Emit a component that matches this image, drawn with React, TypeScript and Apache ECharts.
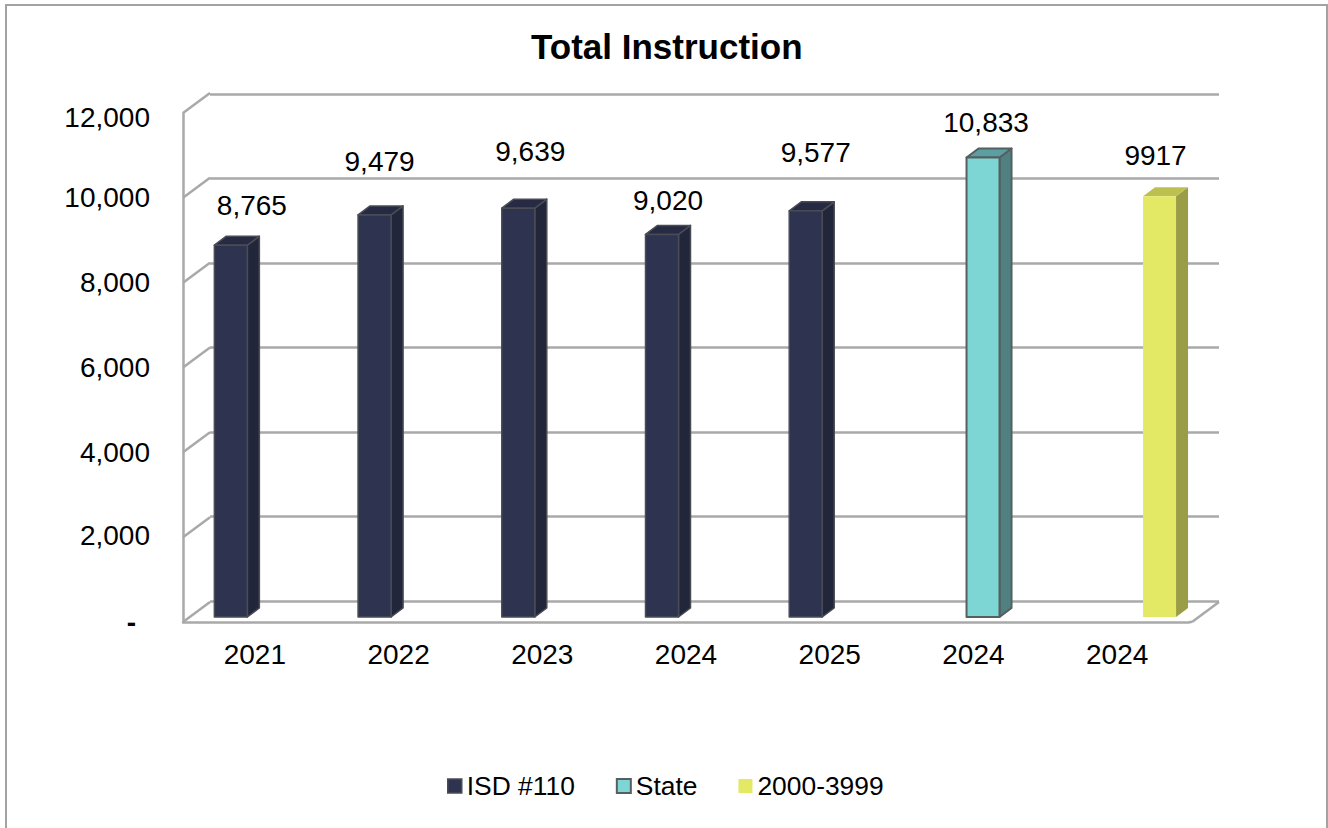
import React, { useEffect, useRef } from "react";
import * as echarts from "echarts";

const categories = ["2021", "2022", "2023", "2024", "2025", "2024", "2024"];
const isdValues = [8765, 9479, 9639, 9020, 9577, null, null];
const stateValues = [null, null, null, null, null, 10833, null];
const rangeValues = [null, null, null, null, null, null, 9917];
const isdLabels = ["8,765", "9,479", "9,639", "9,020", "9,577", "", ""];
const stateLabels = ["", "", "", "", "", "10,833", ""];
const rangeLabels = ["", "", "", "", "", "", "9917"];
const yTicks = [0, 2000, 4000, 6000, 8000, 10000, 12000];

const FONT = "'Liberation Sans', Arial, sans-serif";
const nudges: [number, number][] = [[21, -40], [5, -53], [12, -57], [6, -34], [10, -58], [3, -35], [-4, -41]];

const DEPTH_X = 27;
const DEPTH_Y = 20;
const BAR_W = 33;
const BAR_DX = 12;
const BAR_DY = 9;
const BAR_LIFT = 5;
const FLOOR_OVERHANG = 3;
const GRID_LINE = "#a9a9a9";

type Look = { name: string; front: string; side: string; top: string; border: string; borderWidth: number; offset: number };

const makeBar = (look: Look, labels: string[]) => (params: any, api: any) => {
  const i = api.value(0);
  const v = api.value(1);
  const [cx, yTop] = api.coord([i, v]);
  const [, yBase] = api.coord([i, 0]);
  const x0 = cx + look.offset - BAR_W / 2;
  const x1 = x0 + BAR_W;
  const t = yTop - BAR_LIFT;
  const b = yBase - BAR_LIFT;
  const line = { stroke: look.border, lineWidth: look.borderWidth, lineJoin: "round" };
  const nudge = nudges[i];
  return {
    type: "group",
    children: [
      {
        type: "polygon",
        shape: { points: [[x1, t], [x1 + BAR_DX, t - BAR_DY], [x1 + BAR_DX, b - BAR_DY], [x1, b]] },
        style: { fill: look.side, ...line },
      },
      {
        type: "polygon",
        shape: { points: [[x0, t], [x0 + BAR_DX, t - BAR_DY], [x1 + BAR_DX, t - BAR_DY], [x1, t]] },
        style: { fill: look.top, ...line },
      },
      { type: "rect", shape: { x: x0, y: t, width: BAR_W, height: b - t }, style: { fill: look.front, ...line } },
      {
        type: "text",
        style: {
          text: labels[i],
          x: x0 + BAR_W / 2 + nudge[0],
          y: t + nudge[1],
          align: "center",
          verticalAlign: "middle",
          fontSize: 28,
          fontFamily: FONT,
          fill: "#000",
        },
      },
    ],
  };
};

const frameItem = (params: any, api: any) => {
  const v = api.value(0);
  const sys = params.coordSys;
  const y = api.coord([0, v])[1];
  const style = { stroke: GRID_LINE, lineWidth: 2.5, fill: "none" };
  const left = {
    type: "line",
    shape: { x1: sys.x, y1: y, x2: sys.x + DEPTH_X, y2: y - DEPTH_Y },
    style,
  };
  if (v !== 0) return left;
  const end = sys.x + sys.width + FLOOR_OVERHANG;
  return {
    type: "group",
    children: [
      left,
      { type: "line", shape: { x1: sys.x + sys.width, y1: y, x2: end, y2: y }, style },
      { type: "line", shape: { x1: end, y1: y, x2: end + DEPTH_X, y2: y - DEPTH_Y }, style },
    ],
  };
};

const looks: Look[] = [
  { name: "ISD #110", front: "#2e3350", side: "#22263b", top: "#262a43", border: "#4a4c55", borderWidth: 1.5, offset: -24 },
  { name: "State", front: "#7dd6d3", side: "#4f8183", top: "#5b9fa3", border: "#565f60", borderWidth: 2, offset: 9.6 },
  { name: "2000-3999", front: "#e3e964", side: "#9a9c46", top: "#bcc04f", border: "transparent", borderWidth: 0, offset: 42.4 },
];

const seriesRows = [isdValues, stateValues, rangeValues];
const seriesLabels = [isdLabels, stateLabels, rangeLabels];

const tickText = (v: number) => {
  if (v === 0) return "{dash|-}";
  const s = v.toLocaleString("en-US");
  if (v === 12000) return `{top|${s}}`;
  if (v === 2000) return `{low|${s}}`;
  return s;
};

const labelBase = { fontSize: 28, fontFamily: FONT, color: "#000" };

export default function App() {
  const ref = useRef<HTMLDivElement>(null);
  useEffect(() => {
    const chart = echarts.init(ref.current!, undefined, { renderer: "svg" });
    chart.setOption({
      animation: false,
      backgroundColor: "#ffffff",
      title: {
        text: "Total Instruction",
        left: 526,
        top: 24,
        textStyle: { fontSize: 35, fontWeight: "bold", fontFamily: FONT, color: "#000" },
      },
      legend: {
        left: 442,
        top: 768,
        itemWidth: 14,
        itemHeight: 14,
        itemGap: 41,
        itemStyle: { borderWidth: 0 },
        textStyle: { fontSize: 26.4, fontFamily: FONT, color: "#000" },
        data: looks.map((l) => ({
          name: l.name,
          icon: "rect",
          itemStyle: { color: l.front, borderColor: l.border, borderWidth: l.borderWidth },
        })),
      },
      graphic: [
        {
          type: "polyline",
          silent: true,
          shape: { points: [[6, 828], [6, 5], [1327, 5], [1327, 828]] },
          style: { stroke: "#a3a3a3", lineWidth: 2, fill: "none" },
        },
      ],
      grid: [
        { left: 183, top: 113, width: 1006, height: 509, containLabel: false },
        { left: 210, top: 94, width: 1009, height: 507, containLabel: false },
      ],
      xAxis: [
        {
          type: "category",
          gridIndex: 0,
          data: categories,
          axisLine: { show: true, lineStyle: { color: GRID_LINE, width: 2.5 } },
          axisTick: { show: false },
          axisLabel: { margin: 18, ...labelBase },
        },
        {
          type: "category",
          gridIndex: 1,
          data: categories,
          show: false,
        },
      ],
      yAxis: [
        {
          type: "value",
          gridIndex: 0,
          min: 0,
          max: 12000,
          interval: 2000,
          axisLine: { show: true, lineStyle: { color: GRID_LINE, width: 2.5 } },
          axisTick: { show: false },
          splitLine: { show: false },
          axisLabel: {
            margin: 33,
            ...labelBase,
            formatter: tickText,
            rich: {
              dash: { ...labelBase, fontWeight: "bold", padding: [0, 14, 0, 0] },
              top: { ...labelBase, padding: [8, 0, 0, 0] },
              low: { ...labelBase, padding: [0, 0, 4, 0] },
            },
          },
        },
        {
          type: "value",
          gridIndex: 1,
          min: 0,
          max: 12000,
          interval: 2000,
          axisLine: { show: false },
          axisTick: { show: false },
          axisLabel: { show: false },
          splitLine: { show: true, lineStyle: { color: GRID_LINE, width: 2.5 } },
        },
      ],
      series: [
        {
          type: "custom",
          name: "frame",
          xAxisIndex: 0,
          yAxisIndex: 0,
          clip: false,
          silent: true,
          z: 1,
          renderItem: frameItem,
          encode: { y: 0 },
          data: yTicks.map((t) => [t]),
        },
        ...looks.map((l, s) => ({
          type: "custom",
          name: l.name,
          xAxisIndex: 0,
          yAxisIndex: 0,
          clip: false,
          z: 5,
          itemStyle: { color: l.front },
          renderItem: makeBar(l, seriesLabels[s]),
          encode: { x: 0, y: 1 },
          data: seriesRows[s]
            .map((v, i) => (v === null ? null : [i, v]))
            .filter((d) => d !== null),
        })),
      ],
    });
    return () => chart.dispose();
  }, []);
  return <div ref={ref} style={{ position: "fixed", left: 0, top: 0, width: 1328, height: 828 }} />;
}
